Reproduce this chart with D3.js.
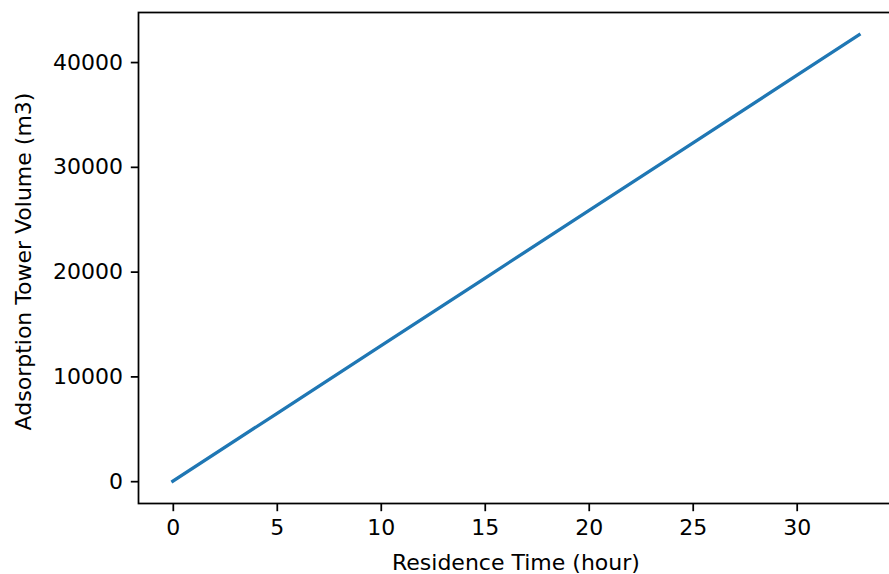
<!DOCTYPE html>
<html>
<head>
<meta charset="utf-8">
<script src="https://cdn.jsdelivr.net/npm/d3@7"></script>
<style>
  html, body { margin: 0; padding: 0; background: #fff; }
  svg { display: block; }
  text { font-family: "DejaVu Sans", sans-serif; fill: #000; }
</style>
</head>
<body>
<svg id="chart" width="889" height="574"></svg>
<script>
// Data
const residenceTime = [0, 5, 10, 15, 20, 25, 30, 33];
const towerVolume   = [0, 6455, 12910, 19365, 25820, 32270, 38725, 42600];
const xTicks = [0, 5, 10, 15, 20, 25, 30];
const yTicks = [0, 10000, 20000, 30000, 40000];
const xLabel = "Residence Time (hour)";
const yLabel = "Adsorption Tower Volume (m3)";

const W = 889, H = 574;
const mLeft = 138.5, mRight = 893.4, mTop = 12.5, mBottom = 503.5;
const fontSize = 22;
const tickLen = 7.7, tickPad = 7.7;

const svg = d3.select("#chart");

const xmin = d3.min(residenceTime), xmax = d3.max(residenceTime);
const xm = (xmax - xmin) * 0.05;
const x = d3.scaleLinear().domain([xmin - xm, xmax + xm]).range([mLeft, mRight]);

const ymin = d3.min(towerVolume), ymax = d3.max(towerVolume);
const ym = (ymax - ymin) * 0.05;
const y = d3.scaleLinear().domain([ymin - ym, ymax + ym]).range([mBottom, mTop]);

// line
const pts = residenceTime.map((t, i) => [t, towerVolume[i]]);
svg.append("path")
  .datum(pts)
  .attr("fill", "none")
  .attr("stroke", "#1f77b4")
  .attr("stroke-width", 3.3)
  .attr("stroke-linecap", "square")
  .attr("d", d3.line().x(d => x(d[0])).y(d => y(d[1])));

// x axis
const xAxis = d3.axisBottom(x).tickValues(xTicks).tickSize(tickLen).tickPadding(tickPad).tickFormat(d3.format("d"));
const gx = svg.append("g").attr("transform", `translate(0,${mBottom})`).call(xAxis);
gx.select(".domain").remove();
gx.selectAll(".tick line").attr("stroke", "#000").attr("stroke-width", 1.75);
gx.selectAll(".tick text").attr("font-size", fontSize).attr("font-family", "DejaVu Sans").attr("fill", "#000");

// y axis
const yAxis = d3.axisLeft(y).tickValues(yTicks).tickSize(tickLen).tickPadding(tickPad).tickFormat(d3.format("d"));
const gy = svg.append("g").attr("transform", `translate(${mLeft},0)`).call(yAxis);
gy.select(".domain").remove();
gy.selectAll(".tick line").attr("stroke", "#000").attr("stroke-width", 1.75);
gy.selectAll(".tick text").attr("font-size", fontSize).attr("font-family", "DejaVu Sans").attr("fill", "#000");

// frame
svg.append("rect")
  .attr("x", mLeft).attr("y", mTop)
  .attr("width", mRight - mLeft).attr("height", mBottom - mTop)
  .attr("fill", "none").attr("stroke", "#000").attr("stroke-width", 1.75);

// labels
svg.append("text")
  .attr("x", (mLeft + mRight) / 2).attr("y", 570)
  .attr("text-anchor", "middle").attr("font-size", fontSize)
  .text(xLabel);

svg.append("text")
  .attr("transform", `translate(31,261.5) rotate(-90)`)
  .attr("text-anchor", "middle").attr("font-size", fontSize)
  .text(yLabel);
</script>
</body>
</html>
